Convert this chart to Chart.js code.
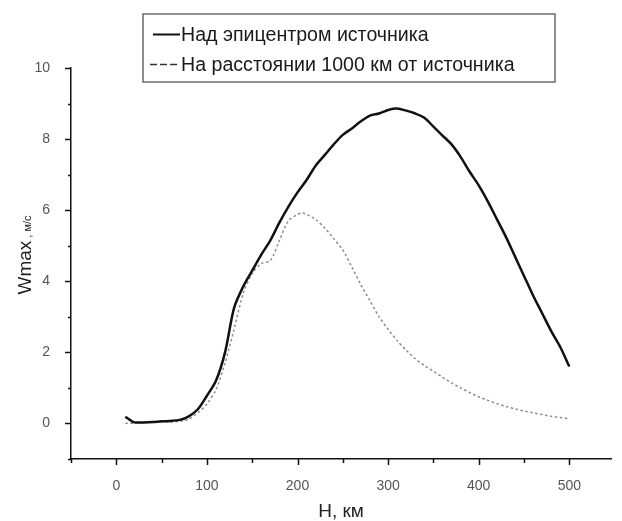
<!DOCTYPE html>
<html>
<head>
<meta charset="utf-8">
<script src="https://cdn.jsdelivr.net/npm/chart.js@4.4.1/dist/chart.umd.min.js"></script>
<style>
  html, body { margin: 0; padding: 0; background: #fff; }
  #wrap { width: 622px; height: 521px; }
</style>
</head>
<body>
<div id="wrap"><canvas id="chart" width="622" height="521"></canvas></div>
<script>
// Высота H, км и Wmax, м/с — над эпицентром
const heightsTop = [10, 15, 20, 30, 40, 50, 60, 70, 80, 90, 100, 110, 120, 130, 140, 150, 160, 170, 180, 190,
    200, 210, 220, 230, 240, 250, 260, 270, 280, 290, 300, 310, 320, 330, 340, 350, 360, 370, 380, 390,
    400, 410, 420, 430, 440, 450, 460, 470, 480, 490, 500];
const wmaxTop = [0.19, 0.10, 0.03, 0.03, 0.04, 0.06, 0.07, 0.10, 0.20, 0.40, 0.78, 1.20, 2.00, 3.25, 3.85, 4.30, 4.75, 5.15, 5.65, 6.10,
    6.50, 6.85, 7.25, 7.55, 7.85, 8.12, 8.30, 8.50, 8.66, 8.72, 8.82, 8.86, 8.80, 8.72, 8.60, 8.35, 8.10, 7.85, 7.50, 7.08,
    6.70, 6.25, 5.75, 5.25, 4.70, 4.15, 3.60, 3.10, 2.60, 2.15, 1.60];

// На расстоянии 1000 км
const heightsFar = [10, 20, 30, 40, 50, 60, 70, 80, 90, 100, 110, 120, 130, 140, 150, 160, 170, 180, 190, 200,
    205, 210, 220, 230, 240, 250, 260, 270, 280, 290, 300, 310, 320, 330, 340, 350, 360, 370, 380, 390,
    400, 410, 420, 430, 440, 450, 460, 470, 480, 490, 500];
const wmaxFar = [0.00, 0.01, 0.02, 0.03, 0.04, 0.04, 0.06, 0.12, 0.30, 0.55, 0.95, 1.70, 2.65, 3.65, 4.22, 4.50, 4.58, 5.15, 5.70, 5.88,
    5.92, 5.88, 5.74, 5.50, 5.20, 4.88, 4.40, 3.90, 3.45, 3.00, 2.65, 2.33, 2.06, 1.82, 1.63, 1.47, 1.30, 1.14, 1.00, 0.87,
    0.75, 0.65, 0.56, 0.48, 0.41, 0.35, 0.30, 0.25, 0.20, 0.17, 0.13];

const seriesNames = ['Над эпицентром источника', 'На расстоянии 1000 км от источника'];
const xTickLabels = [0, 100, 200, 300, 400, 500];
const yTickLabels = [0, 2, 4, 6, 8, 10];

const FONT = '"Liberation Sans", Arial, sans-serif';

function toPoints(xs, ys) {
    return xs.map((x, i) => ({ x: x, y: ys[i] }));
}

// Засечки: большие у подписанных значений, маленькие между ними
const tickMarks = {
    id: 'tickMarks',
    afterDraw(chart) {
        const ctx = chart.ctx;
        const xs = chart.scales.x, ys = chart.scales.y;
        ctx.save();
        ctx.strokeStyle = '#111';
        ctx.lineWidth = 1.5;
        ctx.beginPath();
        for (let v = -50; v <= 500; v += 50) {
            const px = Math.round(xs.getPixelForValue(v)) + 0.5;
            const len = xTickLabels.includes(v) ? 6 : 4;
            ctx.moveTo(px, xs.top);
            ctx.lineTo(px, xs.top + len);
        }
        for (let v = -1; v <= 10; v++) {
            const py = Math.round(ys.getPixelForValue(v)) + 0.5;
            const len = yTickLabels.includes(v) ? 6 : 3;
            ctx.moveTo(ys.right, py);
            ctx.lineTo(ys.right - len, py);
        }
        ctx.stroke();
        ctx.restore();
    }
};

// Подписи осей (у оси Y единицы мелким шрифтом)
const axisTitles = {
    id: 'axisTitles',
    afterDraw(chart) {
        const ctx = chart.ctx;
        const area = chart.chartArea;
        ctx.save();
        ctx.fillStyle = '#222';
        ctx.textBaseline = 'alphabetic';
        ctx.textAlign = 'center';
        ctx.font = '19px ' + FONT;
        ctx.fillText('H, км', (area.left + area.right) / 2, 517);

        ctx.translate(31, 255);
        ctx.rotate(-Math.PI / 2);
        ctx.font = '19px ' + FONT;
        const main = 'Wmax';
        const wMain = ctx.measureText(main).width;
        ctx.font = '11px ' + FONT;
        const unit = ' , м/с';
        const wUnit = ctx.measureText(unit).width;
        const start = -(wMain + wUnit) / 2;
        ctx.textAlign = 'left';
        ctx.font = '19px ' + FONT;
        ctx.fillText(main, start, 0);
        ctx.font = '11px ' + FONT;
        ctx.fillText(unit, start + wMain, 0);
        ctx.restore();
    }
};

// Легенда в рамке
const boxLegend = {
    id: 'boxLegend',
    afterDraw(chart) {
        const ctx = chart.ctx;
        ctx.save();
        ctx.strokeStyle = '#6a6a6a';
        ctx.lineWidth = 1.5;
        ctx.strokeRect(143, 14, 412, 68);
        chart.data.datasets.forEach((ds, i) => {
            const y = 34.5 + i * 30;
            ctx.beginPath();
            ctx.lineWidth = i === 0 ? 2 : 1.5;
            ctx.strokeStyle = i === 0 ? '#111' : '#333';
            ctx.setLineDash(i === 0 ? [] : [7, 3]);
            ctx.moveTo(i === 0 ? 153 : 150, y);
            ctx.lineTo(180, y);
            ctx.stroke();
            ctx.setLineDash([]);
            ctx.fillStyle = '#1a1a1a';
            ctx.font = '19.6px ' + FONT;
            ctx.textBaseline = 'middle';
            ctx.textAlign = 'left';
            ctx.fillText(ds.label, 181, y + 1);
        });
        ctx.restore();
    }
};

const ctx = document.getElementById('chart').getContext('2d');
new Chart(ctx, {
    type: 'scatter',
    data: {
        datasets: [{
            label: seriesNames[0],
            data: toPoints(heightsTop, wmaxTop),
            showLine: true,
            borderColor: '#111',
            borderWidth: 2.5,
            pointRadius: 0,
            tension: 0.3,
            fill: false
        }, {
            label: seriesNames[1],
            data: toPoints(heightsFar, wmaxFar),
            showLine: true,
            borderColor: '#8c8c8c',
            borderWidth: 1.5,
            borderDash: [2.5, 2.5],
            pointRadius: 0,
            tension: 0.3,
            fill: false
        }]
    },
    options: {
        responsive: false,
        animation: false,
        devicePixelRatio: 1,
        layout: { padding: { top: 68, left: 0, right: 0, bottom: 0 } },
        plugins: {
            legend: { display: false },
            tooltip: { enabled: false }
        },
        scales: {
            x: {
                type: 'linear',
                min: -50,
                max: 546,
                grid: { display: false },
                border: { display: true, color: '#111', width: 1.5 },
                ticks: {
                    stepSize: 50,
                    padding: 11,
                    color: '#555',
                    font: { family: FONT, size: 14 },
                    maxRotation: 0,
                    autoSkip: false,
                    callback: v => xTickLabels.includes(v) ? String(v) : ''
                },
                afterFit: s => { s.height = 62; }
            },
            y: {
                type: 'linear',
                min: -1,
                max: 10,
                grid: { display: false },
                border: { display: true, color: '#111', width: 1.5 },
                ticks: {
                    stepSize: 1,
                    padding: 13,
                    color: '#555',
                    font: { family: FONT, size: 14 },
                    autoSkip: false,
                    callback: v => yTickLabels.includes(v) ? String(v) : ''
                },
                afterFit: s => { s.width = 71; }
            }
        }
    },
    plugins: [tickMarks, axisTitles, boxLegend]
});
</script>
</body>
</html>
